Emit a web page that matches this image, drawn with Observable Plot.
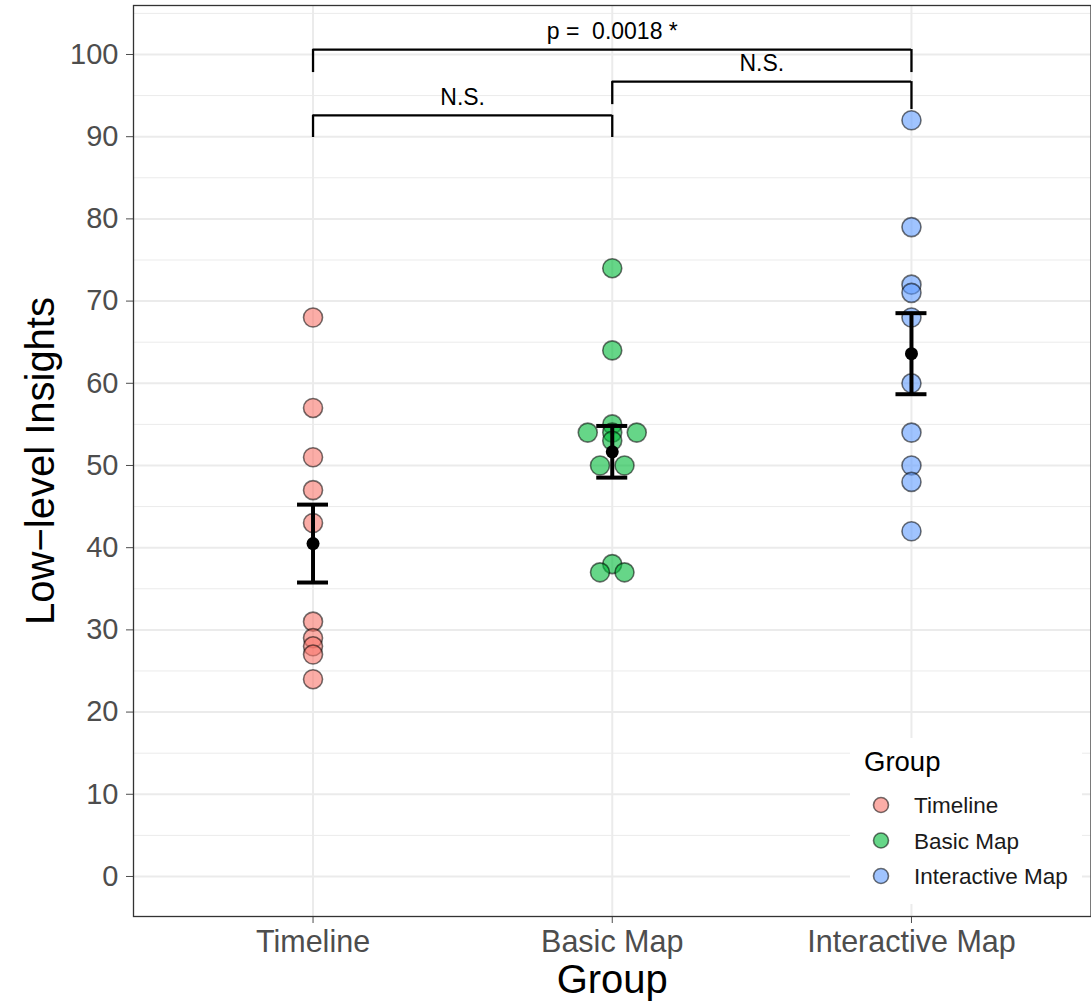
<!DOCTYPE html>
<html>
<head>
<meta charset="utf-8">
<script src="https://cdn.jsdelivr.net/npm/d3@7"></script>
<script src="https://cdn.jsdelivr.net/npm/@observablehq/plot@0.6"></script>
<style>
  html, body { margin: 0; padding: 0; background: #fff; }
  #wrap { position: relative; width: 1091px; height: 1002px; font-family: "Liberation Sans", Arial, sans-serif; }
  #wrap svg text { white-space: pre; }
  #legend { position: absolute; background: #fff; }
</style>
</head>
<body>
<div id="wrap"></div>
<script>
// ---- data ----
const groups = ["Timeline", "Basic Map", "Interactive Map"];
const groupColors = ["#F8766D", "#00BA38", "#619CFF"];
const timelineValues = [68, 57, 51, 47, 43, 31, 29, 28, 27, 24];
const basicMapValues = [74, 64, 55, 54, 54, 54, 53, 50, 50, 38, 37, 37];
const interactiveMapValues = [92, 79, 72, 71, 68, 60, 54, 50, 48, 42];
const yTicks = [0, 10, 20, 30, 40, 50, 60, 70, 80, 90, 100];
const yMinorTicks = [5, 15, 25, 35, 45, 55, 65, 75, 85, 95, 105];
// significance brackets (group index from / to, heights)
const bracketFrom = [1, 2, 1];
const bracketTo = [2, 3, 3];
const bracketTop = [92.6, 96.7, 100.6];
const bracketLeftEnd = [89.9, 93.9, 97.8];
const bracketRightEnd = [89.9, 93.3, 97.8];
const bracketLabels = ["N.S.", "N.S.", "p =  0.0018 *"];

// ---- layout ----
const W = 1091, H = 1002;
const mL = 133, mR = 0.5, mT = 5, mB = 86;
const xDomain = [0.4, 3.6];
const pxPerUnit = (W - mL - mR) / (xDomain[1] - xDomain[0]);
const tieSpacing = 24.5 / pxPerUnit;
const capHalf = 15.5 / pxPerUnit;
const font = "Liberation Sans, Arial, sans-serif";

const allValues = [timelineValues, basicMapValues, interactiveMapValues];
const points = [];
allValues.forEach((vals, gi) => {
  const counts = d3.rollup(vals, v => v.length, v => v);
  const seen = new Map();
  vals.forEach(v => {
    const k = counts.get(v);
    const j = seen.get(v) || 0;
    seen.set(v, j + 1);
    points.push({g: groups[gi], gi: gi + 1, value: v, x: gi + 1 + (j - (k - 1) / 2) * tieSpacing});
  });
});
const stats = allValues.map((vals, gi) => {
  const m = d3.mean(vals);
  const se = d3.deviation(vals) / Math.sqrt(vals.length);
  return {gi: gi + 1, mean: m, lo: m - se, hi: m + se};
});
const brackets = bracketFrom.map((f, i) => ({
  from: f, to: bracketTo[i], top: bracketTop[i], left: bracketLeftEnd[i], right: bracketRightEnd[i],
  label: bracketLabels[i], mid: (f + bracketTo[i]) / 2
}));

const chart = Plot.plot({
  width: W, height: H,
  marginLeft: mL, marginRight: mR, marginTop: mT, marginBottom: mB,
  style: {fontFamily: font, background: "#fff"},
  x: {type: "linear", domain: xDomain, axis: null},
  y: {domain: [-4.87, 105.96], axis: null},
  color: {domain: groups, range: groupColors},
  marks: [
    Plot.gridY(yMinorTicks, {stroke: "#EBEBEB", strokeOpacity: 1, strokeWidth: 1}),
    Plot.gridY(yTicks, {stroke: "#EBEBEB", strokeOpacity: 1, strokeWidth: 2}),
    Plot.gridX([1, 2, 3], {stroke: "#EBEBEB", strokeOpacity: 1, strokeWidth: 2}),
    Plot.axisY({ticks: yTicks, tickSize: 7, tickPadding: 8, fontSize: 29, color: "#4D4D4D", label: null}),
    Plot.axisX({ticks: [1, 2, 3], tickFormat: i => groups[i - 1], tickSize: 7, tickPadding: 7, fontSize: 30.5, color: "#4D4D4D", label: null}),
    Plot.dot(points, {x: "x", y: "value", fill: "g", fillOpacity: 0.6, stroke: "#000", strokeOpacity: 0.55, strokeWidth: 1.6, r: 9.5}),
    Plot.ruleX(stats, {x: "gi", y1: "lo", y2: "hi", stroke: "#000", strokeWidth: 4}),
    Plot.ruleY(stats, {y: "lo", x1: d => d.gi - capHalf, x2: d => d.gi + capHalf, stroke: "#000", strokeWidth: 4}),
    Plot.ruleY(stats, {y: "hi", x1: d => d.gi - capHalf, x2: d => d.gi + capHalf, stroke: "#000", strokeWidth: 4}),
    Plot.dot(stats, {x: "gi", y: "mean", r: 6.5, fill: "#000"}),
    Plot.ruleY(brackets, {y: "top", x1: "from", x2: "to", stroke: "#000", strokeWidth: 2.3}),
    Plot.ruleX(brackets, {x: "from", y1: "left", y2: "top", stroke: "#000", strokeWidth: 2.3}),
    Plot.ruleX(brackets, {x: "to", y1: "right", y2: "top", stroke: "#000", strokeWidth: 2.3}),
    Plot.text(brackets, {x: "mid", y: "top", text: "label", dy: -18, fontSize: 23, fill: "#000", lineAnchor: "middle"}),
    Plot.frame({stroke: "#333", strokeWidth: 1.3}),
    Plot.text(["Low\u2212level Insights"], {frameAnchor: "left", textAnchor: "middle", lineAnchor: "middle", dx: -92, rotate: -90, fontSize: 40, fill: "#000"}),
    Plot.text(["Group"], {frameAnchor: "bottom", textAnchor: "middle", lineAnchor: "middle", dy: 64, fontSize: 40, fill: "#000"})
  ]
});
const wrap = document.getElementById("wrap");
wrap.appendChild(chart);

// legend inside the panel
const leg = d3.select(wrap).append("div").attr("id", "legend")
  .style("left", "850px").style("top", "738px").style("width", "232px").style("height", "166px");
const ls = leg.append("svg").attr("width", 232).attr("height", 166).style("font-family", font);
ls.append("text").attr("x", 14).attr("y", 33).attr("font-size", 27.5).attr("fill", "#000").text("Group");
groups.forEach((g, i) => {
  const cy = 67 + i * 35.5;
  ls.append("circle").attr("cx", 31).attr("cy", cy).attr("r", 7.5)
    .attr("fill", groupColors[i]).attr("fill-opacity", 0.6)
    .attr("stroke", "#000").attr("stroke-opacity", 0.55).attr("stroke-width", 1.6);
  ls.append("text").attr("x", 64).attr("y", cy + 8).attr("font-size", 22.5).attr("fill", "#1a1a1a").text(g);
});
</script>
</body>
</html>
